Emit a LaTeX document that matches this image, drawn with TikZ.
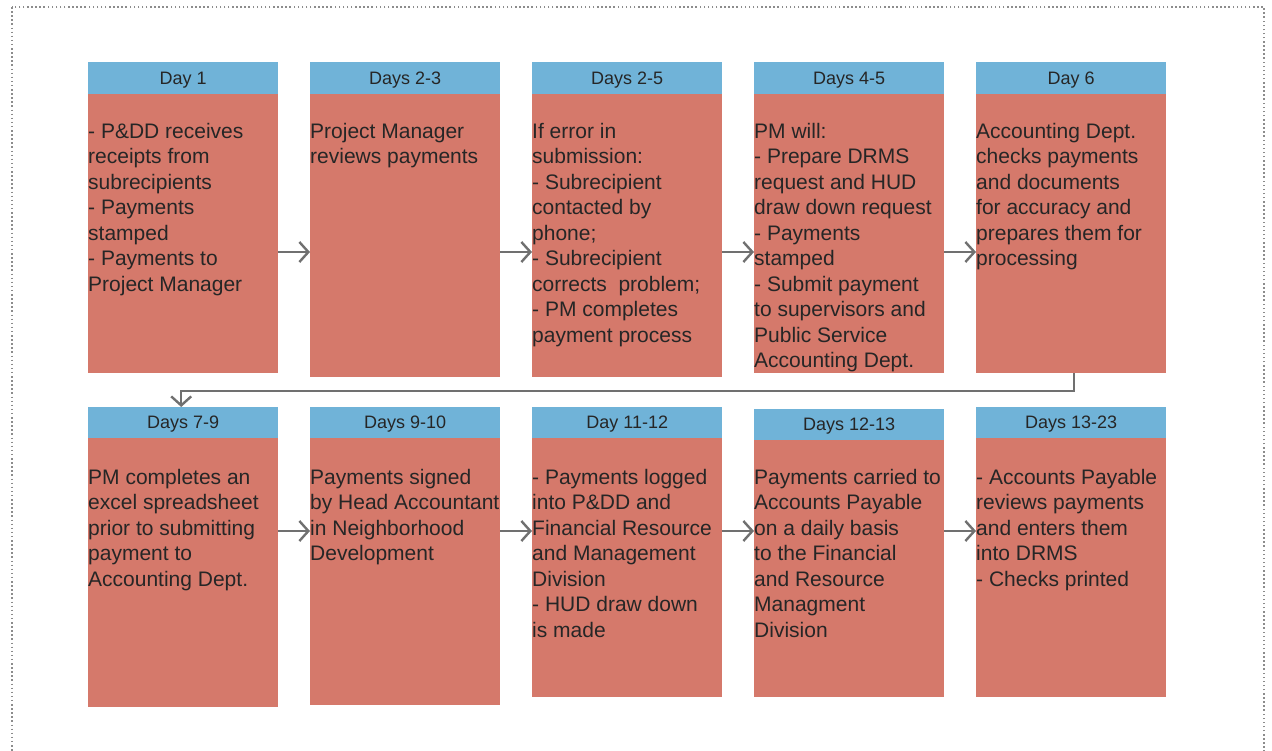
\documentclass[tikz,border=0pt]{standalone}
\usepackage{fontspec}
\setmainfont{Liberation Sans}
\usetikzlibrary{arrows.meta}

\definecolor{hdrblue}{RGB}{112,179,216}
\definecolor{bodysalmon}{RGB}{213,121,107}
\definecolor{inkdark}{RGB}{38,38,38}
\definecolor{flowgray}{RGB}{112,112,112}
\definecolor{framegray}{RGB}{140,140,140}

% One step of the schedule: heading bar, coloured panel, and left-aligned text.
% #1 id, #2 left x, #3 heading top y, #4 heading height, #5 panel height,
% #6 heading, #7 drop from panel top to text top, #8 text
\newcommand\daybox[8]{%
  \node[panel, minimum height=#5pt+1pt, anchor=north west] (b#1) at (#2,#3+#4-1) {};
  \node[hdr, minimum height=#4pt, anchor=north west] (h#1) at (#2,#3) {#6};
  \node[paneltext] (t#1) at ([yshift=-#7pt-1pt]b#1.north west) {\strut #8};
}

\begin{document}
\begin{tikzpicture}[x=1pt, y=-1pt,
  hdr/.style={fill=hdrblue, draw=none, minimum width=190pt, inner sep=0pt,
    text=inkdark, text depth=0pt, font=\fontsize{18}{21}\selectfont},
  panel/.style={fill=bodysalmon, draw=none, minimum width=190pt, inner sep=0pt},
  paneltext/.style={anchor=north west, inner sep=0pt, align=left, text=inkdark,
    font=\fontsize{21}{25.5}\selectfont},
  flow/.style={draw=flowgray, line width=2.4pt,
    -{Straight Barb[length=9pt, width=20pt]}},
  frame/.style={draw=framegray, line width=1.2pt, dash pattern=on 1.5pt off 2.6pt}]

\useasboundingbox (0,0) rectangle (1272,750);
\begin{scope}
\clip (0,0) rectangle (1272,750);
\draw[frame] (12,7) rectangle (1264,760);
\end{scope}

% first row
\daybox{1}{88}{62}{32}{279}{Day 1}{26.15}{- P\&DD receives\\receipts from\\subrecipients\\- Payments\\stamped\\- Payments to\\Project Manager}
\daybox{2}{310}{62}{32}{283}{Days 2-3}{26.15}{Project Manager\\reviews payments}
\daybox{3}{532}{62}{32}{283}{Days 2-5}{26.15}{If error in\\submission:\\- Subrecipient\\contacted by\\phone;\\- Subrecipient\\corrects\ \ problem;\\- PM completes\\payment process}
\daybox{4}{754}{62}{32}{279}{Days 4-5}{26.15}{PM will:\\- Prepare DRMS\\request and HUD\\draw down request\\- Payments\\stamped\\- Submit payment\\to supervisors and\\Public Service\\Accounting Dept.}
\daybox{5}{976}{62}{32}{279}{Day 6}{26.15}{Accounting Dept.\\checks payments\\and documents\\for accuracy and\\prepares them for\\processing}

% second row
\daybox{6}{88}{407}{31}{269}{Days 7-9}{28.15}{PM completes an\\excel spreadsheet\\prior to submitting\\payment to\\Accounting Dept.}
\daybox{7}{310}{407}{31}{267}{Days 9-10}{28.15}{Payments signed\\by Head Accountant\\in Neighborhood\\Development}
\daybox{8}{532}{407}{31}{259}{Day 11-12}{28.15}{- Payments logged\\into P\&DD and\\Financial Resource\\and Management\\Division\\- HUD draw down\\is made}
\daybox{9}{754}{409}{31}{257}{Days 12-13}{26.15}{Payments carried to\\Accounts Payable\\on a daily basis\\to the Financial\\and Resource\\Managment\\Division}
\daybox{10}{976}{407}{31}{259}{Days 13-23}{28.15}{- Accounts Payable\\reviews payments\\and enters them\\into DRMS\\- Checks printed}

% arrows between neighbouring steps
\coordinate (rowa) at (0,252);
\coordinate (rowb) at (0,531);
\foreach \i/\j in {1/2,2/3,3/4,4/5}
  \draw[flow] (b\i.east |- rowa) -- (b\j.west |- rowa);
\foreach \i/\j in {6/7,7/8,8/9,9/10}
  \draw[flow] (b\i.east |- rowb) -- (b\j.west |- rowb);

% wrap from the end of the first row to the start of the second
\coordinate (bend) at (0,391);
\draw[flow] ([xshift=3pt]b5.south) |- ([xshift=-2pt]h6.north |- bend)
  -- ([xshift=-2pt]h6.north);
\end{tikzpicture}
\end{document}
